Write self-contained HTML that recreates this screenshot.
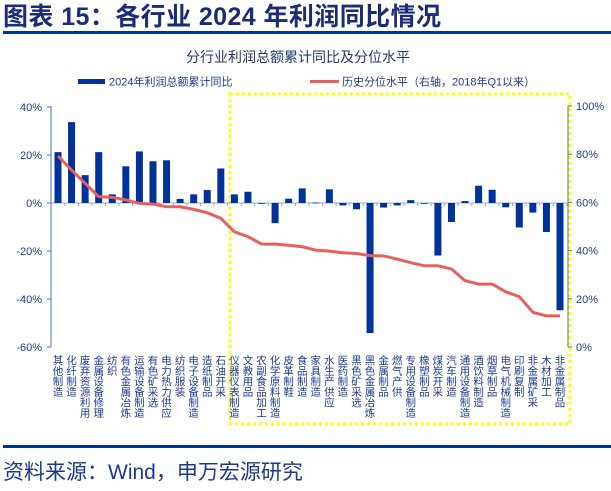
<!DOCTYPE html>
<html><head><meta charset="utf-8">
<style>
body{margin:0;width:611px;height:486px;background:#fff;overflow:hidden;font-family:"Liberation Sans","Noto Sans CJK SC",sans-serif;}
</style></head><body>
<svg id="chart" width="611" height="486" xmlns="http://www.w3.org/2000/svg" style="font-family:'Liberation Sans','Noto Sans CJK SC',sans-serif">
<text x="3" y="25" font-size="25" font-weight="bold" fill="#1a2c78" textLength="438">图表 15：各行业 2024 年利润同比情况</text>
<rect x="3" y="31" width="608" height="3" fill="#003399"/>
<text x="298" y="62" font-size="14" fill="#203870" text-anchor="middle">分行业利润总额累计同比及分位水平</text>
<g>
<rect x="78" y="79" width="27" height="5" fill="#003399"/>
<text x="109" y="85.5" font-size="11" fill="#1f3a93">2024年利润总额累计同比</text>
<rect x="310" y="80" width="29" height="3" fill="#e8605e"/>
<text x="342" y="85.5" font-size="11" fill="#1f3a93">历史分位水平（右轴，2018年Q1以来）</text>
</g>
<rect x="230" y="94" width="340" height="330" fill="none" stroke="#ffff00" stroke-width="3" stroke-dasharray="3,3"/>
<g id="plot"></g>
<rect x="3" y="445" width="608" height="3" fill="#003399"/>
<text x="3" y="479" font-size="21" fill="#1a3a8f">资料来源：Wind，申万宏源研究</text>
</svg>
<script>
const categories=["其他制造","化纤制造","废弃资源利用","金属设备修理","纺织","有色金属冶炼","运输设备制造","有色矿采选","电力热力供应","纺织服装","电子设备制造","造纸制品","石油开采","仪器仪表制造","文教用品","农副食品加工","化学原料制造","皮革制鞋","食品制造","家具制造","水生产供应","医药制造","黑色矿采选","黑色金属冶炼","金属制品","燃气产供","专用设备制造","橡塑制品","煤炭开采","汽车制造","通用设备制造","酒饮料制造","烟草制品","电气机械制造","印刷复制","非金属矿采","木材加工","非金属制品"];
const growth=[21.2,33.7,11.6,21.2,3.6,15.3,21.5,17.4,17.8,1.7,3.6,5.4,14.4,3.6,4.7,-0.2,-8.4,1.8,6.1,0.2,5.7,-1.0,-2.6,-54.2,-1.9,-1.0,1.2,-0.2,-21.9,-7.9,0.8,7.2,5.5,-1.8,-10.2,-4.0,-12.1,-44.7];
const percentile=[79.3,73.4,67.9,62.4,62.1,61,59.6,59.3,58.2,58.2,57.1,55.7,53.4,47.8,45.8,42.7,42.7,42.2,41.6,40.2,39.8,39.1,38.8,37.9,37.8,36.5,35,33.7,33.7,32.4,27.5,26.1,26.1,22.9,20.9,14.4,12.9,12.9];
const leftTicks=[40,20,0,-20,-40,-60];
const rightTicks=[100,80,60,40,20,0];
const NS="http://www.w3.org/2000/svg";
const g=document.getElementById('plot');
const yL=v=>203-(v)*(144/60);
const yR=v=>347-v*2.41;
const step=(560-58)/(categories.length-1);
const xC=i=>58+i*step;
function el(t,a){const e=document.createElementNS(NS,t);for(const k in a)e.setAttribute(k,a[k]);g.appendChild(e);return e;}
let ax=el('line',{x1:51,y1:106,x2:51,y2:347,stroke:'#4472c4','stroke-width':1});


let axr=el('line',{x1:568,y1:106,x2:568,y2:347,stroke:'#4472c4','stroke-width':1});


leftTicks.forEach(v=>{
 const tk=el('line',{x1:47,x2:51,y1:yL(v),y2:yL(v),stroke:'#4472c4'});
 
 
 const t=el('text',{x:42,y:yL(v)+4,'font-size':11,fill:'#1f3a93','text-anchor':'end'});
 t.textContent=v+'%';
 
 
});
rightTicks.forEach(v=>{
 const tk=el('line',{x1:568,x2:572,y1:yR(v),y2:yR(v),stroke:'#4472c4'});
 
 
 const t=el('text',{x:576,y:yR(v)+4,'font-size':11,fill:'#1f3a93'});
 t.textContent=v+'%';
 
 
});
const zl=el('line',{x1:51,x2:568,y1:yL(0),y2:yL(0),stroke:'#8fa8d8','stroke-width':1});


categories.forEach((c,i)=>{
 const tk=el('line',{x1:xC(i)+step/2,x2:xC(i)+step/2,y1:yL(0),y2:yL(0)+3,stroke:'#8fa8d8'});
 
 
 const v=growth[i];
 const b=el('rect',{x:xC(i)-3.5,width:7,y:Math.min(yL(v),yL(0)),height:Math.max(0.8,Math.abs(yL(v)-yL(0))),fill:'#003399'});
 
 
 const t=el('text',{x:xC(i),'font-size':10.5,fill:'#1f3a93','text-anchor':'middle'});
 
 
 [...c].forEach((ch,j)=>{const s=document.createElementNS(NS,'tspan');s.setAttribute('x',xC(i));s.setAttribute('y',364+j*10.5);s.textContent=ch;t.appendChild(s);});
});
const pts=percentile.map((v,i)=>xC(i)+','+yR(v)).join(' ');
const ln=el('polyline',{points:pts,fill:'none',stroke:'#e8605e','stroke-width':3,'stroke-linejoin':'round'});


</script>
</body></html>
